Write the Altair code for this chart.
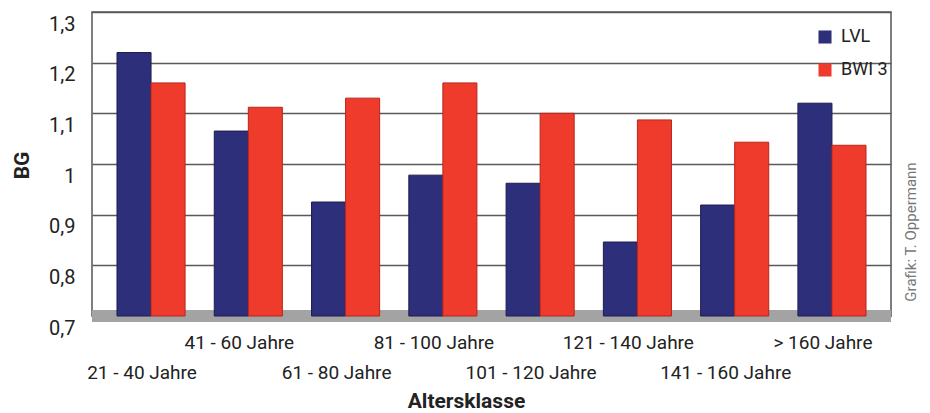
import altair as alt
import pandas as pd

categories = ["21 - 40 Jahre", "41 - 60 Jahre", "61 - 80 Jahre", "81 - 100 Jahre",
              "101 - 120 Jahre", "121 - 140 Jahre", "141 - 160 Jahre", "> 160 Jahre"]
series = ["LVL", "BWI 3"]
lvl = [1.22, 1.065, 0.925, 0.978, 0.962, 0.846, 0.919, 1.12]
bwi3 = [1.16, 1.112, 1.13, 1.16, 1.10, 1.087, 1.043, 1.037]
y_ticks = [0.7, 0.8, 0.9, 1.0, 1.1, 1.2, 1.3]
label_row = [1, 0, 1, 0, 1, 0, 1, 0]  # 1 = lower row of staggered labels
credit = ["Grafik: T. Oppermann"]

colors = ["#2e2f7a", "#ee3b2c"]
edges = ["#1c1c50", "#b8261a"]

rows = []
for c, a, b in zip(categories, lvl, bwi3):
    rows.append({"Altersklasse": c, "Serie": "LVL", "BG": a})
    rows.append({"Altersklasse": c, "Serie": "BWI 3", "BG": b})
df = pd.DataFrame(rows)
labels_df = pd.DataFrame({"Altersklasse": categories, "row": label_row})

W, H = 799, 304
FONT = "Roboto"

x_scale = alt.Scale(domain=categories, paddingInner=0.3, paddingOuter=0.257)
y_scale = alt.Scale(domain=[0.7, 1.3], nice=False, zero=False, clamp=True)

floor = alt.Chart(pd.DataFrame({"z": [0]})).mark_rect(color="#a3a3a3").encode(
    x=alt.value(0), x2=alt.value(W), y=alt.value(H - 6), y2=alt.value(H + 6)
)

bars = alt.Chart(df).mark_bar(strokeWidth=1).encode(
    x=alt.X("Altersklasse:N", scale=x_scale, sort=categories,
            axis=alt.Axis(labels=False, ticks=False, domain=False, grid=False,
                          title="Altersklasse", titleFont=FONT, titleFontSize=21,
                          titleFontWeight="bold", titleColor="#222",
                          titleX=374, titleY=85, titleAlign="center",
                          titleBaseline="middle", titleAnchor="start")),
    xOffset=alt.XOffset("Serie:N", sort=series, scale=alt.Scale(domain=series, paddingInner=0)),
    y=alt.Y("BG:Q", scale=y_scale,
            axis=alt.Axis(values=y_ticks,
                          labelExpr="replace(format(datum.value, '~g'), '.', ',')",
                          labelOffset=12, labelPadding=17, ticks=False, domain=False,
                          labelFont=FONT, labelFontSize=20, labelColor="#222",
                          grid=True, gridColor="#5a5a5a", gridWidth=1.6,
                          title="BG", titleFont=FONT, titleFontSize=21,
                          titleFontWeight="bold", titleColor="#222",
                          titleAngle=270, titleX=-70, titleY=153,
                          titleAlign="center", titleBaseline="middle", titleAnchor="start")),
    color=alt.Color("Serie:N", sort=series, scale=alt.Scale(domain=series, range=colors),
                    legend=alt.Legend(title=None, orient="none", legendX=724, legendY=16,
                                      symbolType="square", symbolSize=170, symbolStrokeWidth=0,
                                      labelFont=FONT, labelFontSize=18, labelColor="#222",
                                      rowPadding=15, labelOffset=7)),
    stroke=alt.Stroke("Serie:N", sort=series, scale=alt.Scale(domain=series, range=edges),
                      legend=None),
)

lab_top = alt.Chart(labels_df).transform_filter("datum.row == 0").mark_text(
    font=FONT, fontSize=19, color="#222", dx=-9, baseline="middle"
).encode(
    x=alt.X("Altersklasse:N", scale=x_scale, sort=categories),
    y=alt.value(331),
    text="Altersklasse:N",
)
lab_bot = alt.Chart(labels_df).transform_filter("datum.row == 1").mark_text(
    font=FONT, fontSize=19, color="#222", dx=-9, baseline="middle"
).encode(
    x=alt.X("Altersklasse:N", scale=x_scale, sort=categories),
    y=alt.value(361),
    text="Altersklasse:N",
)

credit_txt = alt.Chart(pd.DataFrame({"t": credit})).mark_text(
    angle=270, font=FONT, fontSize=15, color="#777", baseline="middle"
).encode(x=alt.value(819), y=alt.value(220), text="t:N")

chart = alt.layer(floor, bars, lab_top, lab_bot, credit_txt).properties(
    width=W, height=H,
    autosize=alt.AutoSizeParams(type="none"),
    padding={"left": 84, "top": 4, "right": 31, "bottom": 97},
).configure_view(stroke="#555", strokeWidth=1.5)

chart.save("out.html", embed_options={"renderer": "svg", "actions": False})
